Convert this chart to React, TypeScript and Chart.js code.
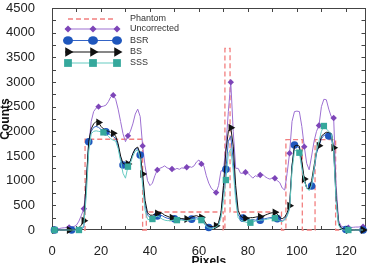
import React, { useEffect, useRef } from 'react';
import { Chart, registerables } from 'chart.js';

Chart.register(...registerables);

// pixel positions along the profile
const pixels = Array.from({ length: 128 }, (_, i) => i);

const uncorrected = [
  10, 15, 20, 30, 40, 45, 50, 50, 60, 70,
  100, 180, 300, 430, 900, 1700, 2200, 2400, 2470, 2500,
  2500, 2510, 2530, 2600, 2700, 2733, 2650, 2450, 2200, 1950,
  1790, 1908, 2000, 2150, 2350, 2450, 2300, 1705, 1300, 1000,
  900, 950, 1100, 1218, 1250, 1270, 1300, 1260, 1240, 1238,
  1220, 1250, 1230, 1260, 1250, 1272, 1290, 1270, 1300, 1380,
  1420, 1340, 1300, 1100, 950, 850, 800, 758, 900, 1200,
  1200, 1700, 2400, 2997, 2000, 1250, 1250, 1150, 1150, 1170,
  1150, 1100, 1050, 1100, 1080, 1116, 1130, 1080, 1050, 1030,
  1060, 1049, 1000, 960, 850, 810, 1150, 1556, 2200, 2400,
  2410, 2400, 2100, 1690, 1350, 1220, 1500, 1800, 2000, 2118,
  2500, 2650, 2640, 2450, 2300, 2270, 900, 200, 80, 60,
  50, 47, 50, 55, 60, 60, 65, 68,
];

const bsr = [
  0, 0, 0, 0, 0, 0, 0, 0, 0, 0,
  5, 10, 20, 60, 900, 1790, 2000, 2080, 2100, 2080,
  2040, 2010, 1993, 1960, 1920, 1900, 1850, 1700, 1450, 1318,
  1300, 1320, 1400, 1550, 1640, 1650, 1520, 1000, 500, 300,
  260, 270, 280, 284, 300, 290, 260, 240, 230, 226,
  226, 210, 210, 220, 215, 210, 215, 220, 240, 250,
  230, 210, 150, 80, 50, 50, 60, 70, 120, 300,
  800, 1230, 1800, 1900, 1400, 700, 300, 260, 240, 220,
  210, 200, 210, 200, 200, 200, 210, 230, 240, 250,
  250, 240, 230, 190, 180, 220, 300, 450, 1300, 1723,
  1720, 1650, 1300, 1000, 850, 820, 892, 1200, 1550, 1700,
  1850, 1920, 1930, 1905, 1880, 1600, 600, 120, 40, 20,
  10, 0, 0, 0, 0, 0, 0, 0,
];

const bs = [
  0, 0, 0, 0, 0, 0, 0, 0, 0, 5,
  20, 50, 100, 188, 1000, 1800, 2050, 2150, 2200, 2180,
  2100, 2050, 2020, 2000, 1980, 1960, 1900, 1750, 1500, 1350,
  1330, 1340, 1400, 1550, 1650, 1680, 1550, 1135, 600, 350,
  300, 300, 320, 338, 360, 340, 300, 280, 260, 250,
  240, 230, 240, 230, 225, 223, 230, 260, 280, 290,
  270, 257, 200, 120, 80, 70, 75, 88, 150, 350,
  900, 1600, 2000, 2075, 1700, 900, 400, 280, 250, 236,
  240, 250, 250, 260, 270, 270, 280, 300, 320, 340,
  350, 358, 320, 250, 230, 260, 350, 493, 1300, 1700,
  1720, 1700, 1400, 1034, 850, 830, 1000, 1300, 1600, 1709,
  1900, 1950, 1980, 1980, 1950, 1669, 700, 150, 40, 20,
  10, 0, 0, 0, 0, 0, 0, 0,
];

const sss = [
  0, 0, 0, 0, 0, 0, 0, 0, 0, 0,
  0, 0, 20, 100, 700, 1600, 1950, 2000, 2010, 2000,
  1990, 1979, 1950, 1900, 1850, 1820, 1800, 1650, 1400, 1150,
  1050, 1284, 1350, 1500, 1600, 1620, 1450, 900, 400, 220,
  200, 223, 260, 280, 260, 220, 200, 190, 190, 195,
  200, 200, 200, 200, 190, 190, 200, 210, 220, 220,
  210, 200, 140, 70, 40, 30, 40, 60, 100, 250,
  600, 1013, 1550, 1650, 1200, 600, 250, 200, 180, 160,
  150, 148, 160, 180, 190, 200, 200, 210, 220, 230,
  235, 240, 220, 180, 170, 200, 280, 420, 1200, 1600,
  1620, 1567, 1250, 1000, 850, 800, 900, 1250, 1600, 1800,
  2000, 2108, 2050, 2000, 1950, 1600, 600, 100, 20, 0,
  0, 0, 0, 0, 0, 0, 0, 0,
];

// phantom step profile (corner points)
const phantomX = [0, 13.5, 13.5, 37, 37, 38.5, 38.5, 69.9, 69.9, 70.6, 70.6, 72.7, 72.7, 93.7, 93.7, 95.5, 95.5, 102.2, 102.2, 107.4, 107.4, 115.8, 115.8, 128];
const phantomY = [0, 0, 1840, 1840, 0, 0, 365, 365, 0, 0, 3680, 3680, 365, 365, 0, 0, 1830, 1830, 0, 0, 1830, 1830, 0, 0];

const xTickValues = [0, 20, 40, 60, 80, 100, 120];
const yTickValues = [0, 500, 1000, 1500, 2000, 2500, 3000, 3500, 4000, 4500];
const xTickMarks = [0, 10, 20, 30, 40, 50, 60, 70, 80, 90, 100, 110, 120];
const yTickMarks = [0, 250, 500, 750, 1000, 1250, 1500, 1750, 2000, 2250, 2500, 2750, 3000, 3250, 3500, 3750, 4000, 4250, 4500];

const FONT = '"Liberation Sans", Arial, Helvetica, sans-serif';

const C_PHANTOM = '#f27f7f';
const C_UNC_LINE = '#9d70d2';
const C_UNC = '#7d45b8';
const C_BSR_LINE = '#3464c6';
const C_BSR = '#1f57bd';
const C_BS = '#111111';
const C_SSS_LINE = '#66cbc2';
const C_SSS = '#35a89c';

type MarkerStyle = 'diamond' | 'circle' | 'triRight' | 'square';

function drawMarker(ctx: CanvasRenderingContext2D, style: MarkerStyle, x: number, y: number, r: number, color: string) {
  ctx.save();
  ctx.fillStyle = color;
  ctx.beginPath();
  if (style === 'diamond') {
    ctx.moveTo(x, y - r);
    ctx.lineTo(x + r, y);
    ctx.lineTo(x, y + r);
    ctx.lineTo(x - r, y);
    ctx.closePath();
  } else if (style === 'circle') {
    ctx.ellipse(x, y, r, r * 0.85, 0, 0, Math.PI * 2);
  } else if (style === 'triRight') {
    const a = Math.PI / 2;
    for (let k = 0; k < 3; k++) {
      const ang = a + (k * 2 * Math.PI) / 3;
      const px = x + Math.sin(ang) * r;
      const py = y - Math.cos(ang) * r;
      if (k === 0) ctx.moveTo(px, py);
      else ctx.lineTo(px, py);
    }
    ctx.closePath();
  } else {
    const s = r * Math.SQRT1_2;
    ctx.rect(x - s, y - s, 2 * s, 2 * s);
  }
  ctx.fill();
  ctx.restore();
}

const legendItems: { label: string; line: string; marker: string; style: MarkerStyle | null; r: number; y: number; dash: boolean }[] = [
  { label: 'Phantom', line: C_PHANTOM, marker: C_PHANTOM, style: null, r: 0, y: 19, dash: true },
  { label: 'Uncorrected', line: C_UNC_LINE, marker: C_UNC, style: 'diamond', r: 3.5, y: 29, dash: false },
  { label: 'BSR', line: C_BSR_LINE, marker: C_BSR, style: 'circle', r: 5, y: 40.5, dash: false },
  { label: 'BS', line: C_BS, marker: C_BS, style: 'triRight', r: 5.5, y: 52, dash: false },
  { label: 'SSS', line: C_SSS_LINE, marker: C_SSS, style: 'square', r: 5.5, y: 63, dash: false },
];

const framePlugin = {
  id: 'frameTicks',
  beforeDatasetsDraw(chart: any) {
    const { ctx, chartArea, scales } = chart;
    const { left, right, top, bottom } = chartArea;
    ctx.save();
    ctx.strokeStyle = '#444';
    ctx.lineWidth = 1;
    ctx.strokeRect(Math.round(left) + 0.5, Math.round(top) + 0.5, Math.round(right - left) - 1, Math.round(bottom - top) - 1);
    ctx.beginPath();
    xTickMarks.forEach((v) => {
      const px = Math.round(scales.x.getPixelForValue(v)) + 0.5;
      ctx.moveTo(px, bottom);
      ctx.lineTo(px, bottom - 4);
      ctx.moveTo(px, top);
      ctx.lineTo(px, top + 4);
    });
    yTickMarks.forEach((v) => {
      const py = Math.round(scales.y.getPixelForValue(v)) + 0.5;
      ctx.moveTo(left, py);
      ctx.lineTo(left + 4, py);
      ctx.moveTo(right, py);
      ctx.lineTo(right - 4, py);
    });
    ctx.stroke();
    ctx.restore();
  },
  afterDraw(chart: any) {
    const { ctx, chartArea } = chart;
    ctx.save();
    // legend
    legendItems.forEach((it) => {
      ctx.save();
      ctx.strokeStyle = it.line;
      ctx.lineWidth = it.dash ? 1.3 : 1.1;
      if (it.dash) ctx.setLineDash([5, 3]);
      ctx.beginPath();
      ctx.moveTo(it.dash ? 68 : 65, it.y);
      ctx.lineTo(it.dash ? 115 : 119, it.y);
      ctx.stroke();
      ctx.restore();
      if (it.style) {
        [68, 93, 117].forEach((mx) => drawMarker(ctx, it.style as MarkerStyle, mx, it.y, it.r, it.marker));
      }
      ctx.fillStyle = '#333';
      ctx.font = `9px ${FONT}`;
      ctx.textAlign = 'left';
      ctx.textBaseline = 'middle';
      ctx.fillText(it.label, 130, it.y);
    });
    // axis titles
    ctx.fillStyle = '#111';
    ctx.font = `bold 12px ${FONT}`;
    ctx.textAlign = 'center';
    ctx.textBaseline = 'alphabetic';
    ctx.fillText('Pixels', (chartArea.left + chartArea.right) / 2, 265);
    ctx.save();
    ctx.translate(8.5, (chartArea.top + chartArea.bottom) / 2);
    ctx.rotate(-Math.PI / 2);
    ctx.fillText('Counts', 0, 0);
    ctx.restore();
    ctx.restore();
  },
};

function markerEvery(every: number, radius: number) {
  return (c: any) => (c.dataIndex >= 1 && (c.dataIndex - 1) % every === 0 ? radius : 0);
}

export default function App() {
  const ref = useRef<HTMLCanvasElement>(null);
  useEffect(() => {
    const toPts = (vals: number[]) => pixels.map((x, i) => ({ x, y: vals[i] }));
    const chart = new Chart(ref.current as HTMLCanvasElement, {
      type: 'line',
      data: {
        datasets: [
          {
            label: 'SSS',
            data: toPts(sss),
            borderColor: C_SSS_LINE,
            backgroundColor: C_SSS,
            pointBackgroundColor: C_SSS,
            pointBorderWidth: 0,
            borderWidth: 1,
            pointStyle: 'rect',
            pointRadius: markerEvery(10, 4.5),
            pointHoverRadius: 0,
            order: 0,
            clip: false,
          } as any,
          {
            label: 'BS',
            data: toPts(bs),
            borderColor: C_BS,
            backgroundColor: C_BS,
            pointBackgroundColor: C_BS,
            pointBorderWidth: 0,
            borderWidth: 1,
            pointStyle: 'triangle',
            pointRotation: 90,
            pointRadius: markerEvery(6, 4.5),
            pointHoverRadius: 0,
            order: 1,
            clip: false,
          } as any,
          {
            label: 'BSR',
            data: toPts(bsr),
            borderColor: C_BSR_LINE,
            backgroundColor: C_BSR,
            pointBackgroundColor: C_BSR,
            pointBorderWidth: 0,
            borderWidth: 1,
            pointStyle: 'circle',
            pointRadius: markerEvery(7, 3.8),
            pointHoverRadius: 0,
            order: 2,
            clip: false,
          } as any,
          {
            label: 'Uncorrected',
            data: toPts(uncorrected),
            borderColor: C_UNC_LINE,
            backgroundColor: C_UNC,
            pointBackgroundColor: C_UNC,
            pointBorderWidth: 0,
            borderWidth: 1,
            pointStyle: 'rectRot',
            pointRadius: markerEvery(6, 3.2),
            pointHoverRadius: 0,
            order: 3,
            clip: false,
          } as any,
          {
            label: 'Phantom',
            data: phantomX.map((x, i) => ({ x, y: phantomY[i] })),
            borderColor: C_PHANTOM,
            borderWidth: 1.3,
            borderDash: [5, 3],
            pointRadius: 0,
            pointHoverRadius: 0,
            order: 4,
            clip: false,
          } as any,
        ],
      },
      options: {
        responsive: false,
        animation: false,
        events: [],
        layout: { padding: { top: 8, right: 4, left: 0, bottom: 0 } },
        plugins: { legend: { display: false }, tooltip: { enabled: false } },
        scales: {
          x: {
            type: 'linear',
            min: 0,
            max: 128,
            grid: { display: false },
            border: { display: false },
            ticks: {
              font: { family: FONT, size: 13 },
              color: '#222',
              padding: 6,
              maxRotation: 0,
              autoSkip: false,
              callback: (v: any) => String(v),
            },
            afterBuildTicks: (s: any) => {
              s.ticks = xTickValues.map((v) => ({ value: v }));
            },
            afterFit: (s: any) => {
              s.height = 33;
              s.paddingLeft = 0;
              s.paddingRight = 0;
              s.paddingTop = 0;
              s.paddingBottom = 0;
            },
          },
          y: {
            type: 'linear',
            min: 0,
            max: 4500,
            grid: { display: false },
            border: { display: false },
            ticks: {
              font: { family: FONT, size: 13 },
              color: '#222',
              padding: 9,
              autoSkip: false,
              callback: (v: any) => String(v),
            },
            afterBuildTicks: (s: any) => {
              s.ticks = yTickValues.map((v) => ({ value: v }));
            },
            afterFit: (s: any) => {
              s.width = 52;
              s.paddingTop = 0;
              s.paddingBottom = 0;
              s.paddingLeft = 0;
              s.paddingRight = 0;
            },
          },
        },
      } as any,
      plugins: [framePlugin],
    });
    return () => chart.destroy();
  }, []);
  return (
    <div style={{ position: 'fixed', left: 0, top: 0, width: 370, height: 263, background: '#fff' }}>
      <canvas ref={ref} width={370} height={263} style={{ display: 'block' }} />
    </div>
  );
}
